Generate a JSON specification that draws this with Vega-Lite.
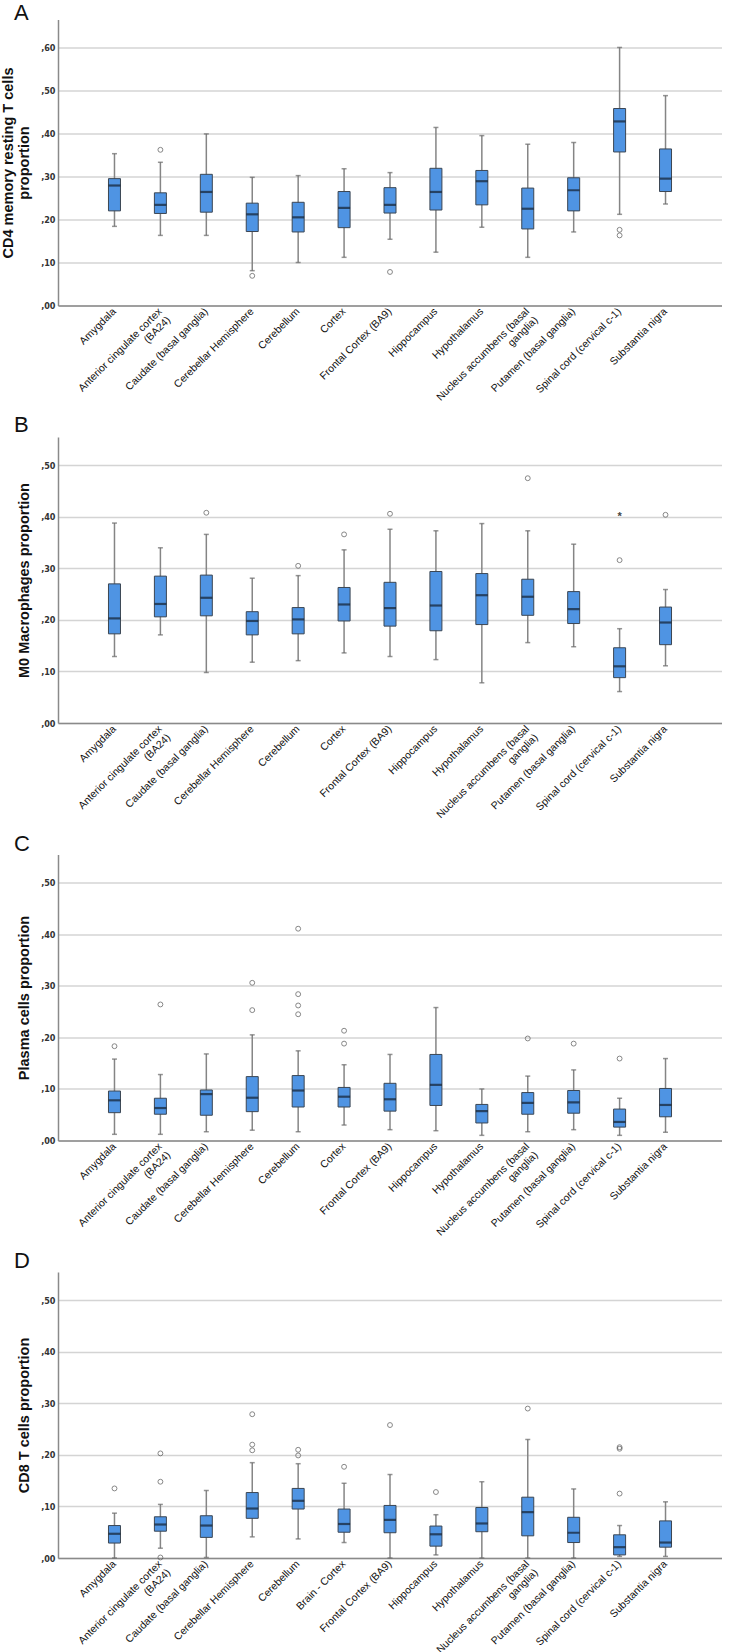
{
  "$schema": "https://vega.github.io/schema/vega-lite/v6.json",
  "background": "white",
  "padding": {"left": 0, "top": 1.5, "right": 0, "bottom": 0},
  "spacing": 131.5,
  "bounds": "flush",
  "config": {
    "view": {"stroke": null},
    "axisX": {"domainColor": "#8a8a8a", "domainWidth": 1.5, "ticks": false, "labelAngle": -45, "labelFontSize": 10.5, "labelLineHeight": 12, "labelFont": "Liberation Sans", "labelColor": "#111", "labelAlign": "right", "labelBaseline": "middle", "labelPadding": 4, "labelLimit": 300, "grid": false, "title": null,
      "labelExpr": "datum.label == 'Anterior cingulate cortex (BA24)' ? ['Anterior cingulate cortex', '(BA24)'] : datum.label == 'Nucleus accumbens (basal ganglia)' ? ['Nucleus accumbens (basal', 'ganglia)'] : datum.label"},
    "axisY": {"domainColor": "#8a8a8a", "domainWidth": 1.5, "ticks": false, "labelFont": "DejaVu Sans Condensed", "labelFontWeight": "bold", "labelFontSize": 9, "labelColor": "#333", "labelPadding": 3, "gridColor": "#d4d4d4", "gridWidth": 1.5, "titleFont": "Liberation Sans", "titleFontSize": 14.5, "titleFontWeight": "bold", "titleColor": "#111", "titlePadding": 9,
      "labelExpr": "replace(format(datum.value, '.2f'), '0.', ',')"},
    "title": {"anchor": "start", "frame": "group", "dx": -44, "fontSize": 22, "fontWeight": "normal", "font": "Liberation Sans", "color": "#111", "baseline": "alphabetic", "offset": 0}
  },
  "datasets": {
    "boxes": [
      {"p": "A", "r": "Amygdala", "lo": 0.184, "q1": 0.220, "md": 0.279, "q3": 0.295, "hi": 0.353},
      {"p": "A", "r": "Anterior cingulate cortex (BA24)", "lo": 0.163, "q1": 0.214, "md": 0.234, "q3": 0.262, "hi": 0.333},
      {"p": "A", "r": "Caudate (basal ganglia)", "lo": 0.163, "q1": 0.217, "md": 0.264, "q3": 0.305, "hi": 0.399},
      {"p": "A", "r": "Cerebellar Hemisphere", "lo": 0.081, "q1": 0.172, "md": 0.212, "q3": 0.238, "hi": 0.298},
      {"p": "A", "r": "Cerebellum", "lo": 0.100, "q1": 0.171, "md": 0.205, "q3": 0.240, "hi": 0.302},
      {"p": "A", "r": "Cortex", "lo": 0.112, "q1": 0.181, "md": 0.227, "q3": 0.265, "hi": 0.318},
      {"p": "A", "r": "Frontal Cortex (BA9)", "lo": 0.154, "q1": 0.215, "md": 0.234, "q3": 0.274, "hi": 0.309},
      {"p": "A", "r": "Hippocampus", "lo": 0.124, "q1": 0.222, "md": 0.264, "q3": 0.319, "hi": 0.414},
      {"p": "A", "r": "Hypothalamus", "lo": 0.182, "q1": 0.234, "md": 0.289, "q3": 0.314, "hi": 0.395},
      {"p": "A", "r": "Nucleus accumbens (basal ganglia)", "lo": 0.112, "q1": 0.178, "md": 0.225, "q3": 0.273, "hi": 0.375},
      {"p": "A", "r": "Putamen (basal ganglia)", "lo": 0.171, "q1": 0.220, "md": 0.268, "q3": 0.297, "hi": 0.379},
      {"p": "A", "r": "Spinal cord (cervical c-1)", "lo": 0.212, "q1": 0.357, "md": 0.428, "q3": 0.458, "hi": 0.600},
      {"p": "A", "r": "Substantia nigra", "lo": 0.236, "q1": 0.265, "md": 0.295, "q3": 0.364, "hi": 0.488},

      {"p": "B", "r": "Amygdala", "lo": 0.129, "q1": 0.173, "md": 0.203, "q3": 0.270, "hi": 0.388},
      {"p": "B", "r": "Anterior cingulate cortex (BA24)", "lo": 0.171, "q1": 0.206, "md": 0.231, "q3": 0.285, "hi": 0.340},
      {"p": "B", "r": "Caudate (basal ganglia)", "lo": 0.098, "q1": 0.208, "md": 0.243, "q3": 0.287, "hi": 0.366},
      {"p": "B", "r": "Cerebellar Hemisphere", "lo": 0.118, "q1": 0.171, "md": 0.198, "q3": 0.216, "hi": 0.281},
      {"p": "B", "r": "Cerebellum", "lo": 0.121, "q1": 0.173, "md": 0.201, "q3": 0.224, "hi": 0.286},
      {"p": "B", "r": "Cortex", "lo": 0.136, "q1": 0.198, "md": 0.230, "q3": 0.263, "hi": 0.336},
      {"p": "B", "r": "Frontal Cortex (BA9)", "lo": 0.129, "q1": 0.188, "md": 0.223, "q3": 0.273, "hi": 0.376},
      {"p": "B", "r": "Hippocampus", "lo": 0.123, "q1": 0.179, "md": 0.228, "q3": 0.294, "hi": 0.373},
      {"p": "B", "r": "Hypothalamus", "lo": 0.078, "q1": 0.191, "md": 0.248, "q3": 0.290, "hi": 0.387},
      {"p": "B", "r": "Nucleus accumbens (basal ganglia)", "lo": 0.156, "q1": 0.209, "md": 0.245, "q3": 0.279, "hi": 0.373},
      {"p": "B", "r": "Putamen (basal ganglia)", "lo": 0.148, "q1": 0.193, "md": 0.221, "q3": 0.255, "hi": 0.347},
      {"p": "B", "r": "Spinal cord (cervical c-1)", "lo": 0.061, "q1": 0.088, "md": 0.110, "q3": 0.146, "hi": 0.183},
      {"p": "B", "r": "Substantia nigra", "lo": 0.111, "q1": 0.152, "md": 0.195, "q3": 0.225, "hi": 0.259},

      {"p": "C", "r": "Amygdala", "lo": 0.012, "q1": 0.054, "md": 0.078, "q3": 0.096, "hi": 0.158},
      {"p": "C", "r": "Anterior cingulate cortex (BA24)", "lo": 0.012, "q1": 0.051, "md": 0.063, "q3": 0.082, "hi": 0.128},
      {"p": "C", "r": "Caudate (basal ganglia)", "lo": 0.017, "q1": 0.049, "md": 0.090, "q3": 0.098, "hi": 0.168},
      {"p": "C", "r": "Cerebellar Hemisphere", "lo": 0.020, "q1": 0.056, "md": 0.083, "q3": 0.124, "hi": 0.205},
      {"p": "C", "r": "Cerebellum", "lo": 0.017, "q1": 0.065, "md": 0.097, "q3": 0.126, "hi": 0.174},
      {"p": "C", "r": "Cortex", "lo": 0.030, "q1": 0.065, "md": 0.085, "q3": 0.103, "hi": 0.147},
      {"p": "C", "r": "Frontal Cortex (BA9)", "lo": 0.021, "q1": 0.057, "md": 0.080, "q3": 0.111, "hi": 0.167},
      {"p": "C", "r": "Hippocampus", "lo": 0.019, "q1": 0.068, "md": 0.108, "q3": 0.167, "hi": 0.258},
      {"p": "C", "r": "Hypothalamus", "lo": 0.010, "q1": 0.034, "md": 0.057, "q3": 0.070, "hi": 0.100},
      {"p": "C", "r": "Nucleus accumbens (basal ganglia)", "lo": 0.017, "q1": 0.051, "md": 0.073, "q3": 0.093, "hi": 0.125},
      {"p": "C", "r": "Putamen (basal ganglia)", "lo": 0.021, "q1": 0.053, "md": 0.074, "q3": 0.097, "hi": 0.137},
      {"p": "C", "r": "Spinal cord (cervical c-1)", "lo": 0.010, "q1": 0.026, "md": 0.036, "q3": 0.061, "hi": 0.082},
      {"p": "C", "r": "Substantia nigra", "lo": 0.016, "q1": 0.046, "md": 0.069, "q3": 0.101, "hi": 0.159},

      {"p": "D", "r": "Amygdala", "lo": 0.000, "q1": 0.029, "md": 0.047, "q3": 0.063, "hi": 0.087},
      {"p": "D", "r": "Anterior cingulate cortex (BA24)", "lo": 0.019, "q1": 0.052, "md": 0.065, "q3": 0.080, "hi": 0.104},
      {"p": "D", "r": "Caudate (basal ganglia)", "lo": 0.001, "q1": 0.040, "md": 0.063, "q3": 0.082, "hi": 0.131},
      {"p": "D", "r": "Cerebellar Hemisphere", "lo": 0.041, "q1": 0.077, "md": 0.096, "q3": 0.127, "hi": 0.185},
      {"p": "D", "r": "Cerebellum", "lo": 0.037, "q1": 0.095, "md": 0.111, "q3": 0.135, "hi": 0.183},
      {"p": "D", "r": "Brain - Cortex", "lo": 0.030, "q1": 0.050, "md": 0.066, "q3": 0.095, "hi": 0.145},
      {"p": "D", "r": "Frontal Cortex (BA9)", "lo": 0.000, "q1": 0.049, "md": 0.074, "q3": 0.102, "hi": 0.162},
      {"p": "D", "r": "Hippocampus", "lo": 0.006, "q1": 0.023, "md": 0.046, "q3": 0.062, "hi": 0.084},
      {"p": "D", "r": "Hypothalamus", "lo": 0.000, "q1": 0.051, "md": 0.067, "q3": 0.098, "hi": 0.148},
      {"p": "D", "r": "Nucleus accumbens (basal ganglia)", "lo": 0.000, "q1": 0.043, "md": 0.089, "q3": 0.118, "hi": 0.230},
      {"p": "D", "r": "Putamen (basal ganglia)", "lo": 0.000, "q1": 0.030, "md": 0.049, "q3": 0.079, "hi": 0.134},
      {"p": "D", "r": "Spinal cord (cervical c-1)", "lo": 0.003, "q1": 0.006, "md": 0.021, "q3": 0.045, "hi": 0.063},
      {"p": "D", "r": "Substantia nigra", "lo": 0.003, "q1": 0.021, "md": 0.030, "q3": 0.072, "hi": 0.109}
    ],
    "outliers": [
      {"p": "A", "r": "Anterior cingulate cortex (BA24)", "v": 0.362, "k": "o"},
      {"p": "A", "r": "Cerebellar Hemisphere", "v": 0.069, "k": "o"},
      {"p": "A", "r": "Frontal Cortex (BA9)", "v": 0.078, "k": "o"},
      {"p": "A", "r": "Spinal cord (cervical c-1)", "v": 0.176, "k": "o"},
      {"p": "A", "r": "Spinal cord (cervical c-1)", "v": 0.163, "k": "o"},
      {"p": "B", "r": "Caudate (basal ganglia)", "v": 0.408, "k": "o"},
      {"p": "B", "r": "Cerebellum", "v": 0.305, "k": "o"},
      {"p": "B", "r": "Cortex", "v": 0.366, "k": "o"},
      {"p": "B", "r": "Frontal Cortex (BA9)", "v": 0.406, "k": "o"},
      {"p": "B", "r": "Nucleus accumbens (basal ganglia)", "v": 0.475, "k": "o"},
      {"p": "B", "r": "Spinal cord (cervical c-1)", "v": 0.316, "k": "o"},
      {"p": "B", "r": "Spinal cord (cervical c-1)", "v": 0.406, "k": "*"},
      {"p": "B", "r": "Substantia nigra", "v": 0.404, "k": "o"},
      {"p": "C", "r": "Amygdala", "v": 0.183, "k": "o"},
      {"p": "C", "r": "Anterior cingulate cortex (BA24)", "v": 0.264, "k": "o"},
      {"p": "C", "r": "Cerebellar Hemisphere", "v": 0.306, "k": "o"},
      {"p": "C", "r": "Cerebellar Hemisphere", "v": 0.253, "k": "o"},
      {"p": "C", "r": "Cerebellum", "v": 0.411, "k": "o"},
      {"p": "C", "r": "Cerebellum", "v": 0.284, "k": "o"},
      {"p": "C", "r": "Cerebellum", "v": 0.262, "k": "o"},
      {"p": "C", "r": "Cerebellum", "v": 0.245, "k": "o"},
      {"p": "C", "r": "Cortex", "v": 0.213, "k": "o"},
      {"p": "C", "r": "Cortex", "v": 0.188, "k": "o"},
      {"p": "C", "r": "Nucleus accumbens (basal ganglia)", "v": 0.198, "k": "o"},
      {"p": "C", "r": "Putamen (basal ganglia)", "v": 0.188, "k": "o"},
      {"p": "C", "r": "Spinal cord (cervical c-1)", "v": 0.159, "k": "o"},
      {"p": "D", "r": "Amygdala", "v": 0.135, "k": "o"},
      {"p": "D", "r": "Anterior cingulate cortex (BA24)", "v": 0.203, "k": "o"},
      {"p": "D", "r": "Anterior cingulate cortex (BA24)", "v": 0.148, "k": "o"},
      {"p": "D", "r": "Anterior cingulate cortex (BA24)", "v": 0.001, "k": "o"},
      {"p": "D", "r": "Cerebellar Hemisphere", "v": 0.279, "k": "o"},
      {"p": "D", "r": "Cerebellar Hemisphere", "v": 0.220, "k": "o"},
      {"p": "D", "r": "Cerebellar Hemisphere", "v": 0.209, "k": "o"},
      {"p": "D", "r": "Cerebellum", "v": 0.210, "k": "o"},
      {"p": "D", "r": "Cerebellum", "v": 0.199, "k": "o"},
      {"p": "D", "r": "Brain - Cortex", "v": 0.177, "k": "o"},
      {"p": "D", "r": "Frontal Cortex (BA9)", "v": 0.258, "k": "o"},
      {"p": "D", "r": "Hippocampus", "v": 0.128, "k": "o"},
      {"p": "D", "r": "Nucleus accumbens (basal ganglia)", "v": 0.290, "k": "o"},
      {"p": "D", "r": "Spinal cord (cervical c-1)", "v": 0.215, "k": "o"},
      {"p": "D", "r": "Spinal cord (cervical c-1)", "v": 0.212, "k": "o"},
      {"p": "D", "r": "Spinal cord (cervical c-1)", "v": 0.125, "k": "o"}
    ]
  },
  "vconcat": [
    {
      "title": {"text": "A", "offset": -5},
      "width": 664, "height": 286,
      "layer": [
        {"data": {"name": "boxes"}, "transform": [{"filter": "datum.p === 'A'"}],
         "mark": {"type": "rule", "color": "#858585", "strokeWidth": 1.5},
         "encoding": {
           "x": {"field": "r", "type": "nominal", "scale": {"domain": ["Amygdala","Anterior cingulate cortex (BA24)","Caudate (basal ganglia)","Cerebellar Hemisphere","Cerebellum","Cortex","Frontal Cortex (BA9)","Hippocampus","Hypothalamus","Nucleus accumbens (basal ganglia)","Putamen (basal ganglia)","Spinal cord (cervical c-1)","Substantia nigra"], "paddingOuter": 0.73, "paddingInner": 0}},
           "y": {"field": "lo", "type": "quantitative", "scale": {"domain": [0, 0.665], "nice": false, "zero": true}, "axis": {"values": [0, 0.1, 0.2, 0.3, 0.4, 0.5, 0.6]}, "title": ["CD4 memory resting T cells", "proportion"]},
           "y2": {"field": "hi"}}},
        {"data": {"name": "boxes"}, "transform": [{"filter": "datum.p === 'A'"}, {"fold": ["lo", "hi"], "as": ["w", "wv"]}],
         "mark": {"type": "tick", "color": "#6a6a6a", "size": 5, "thickness": 1.5},
         "encoding": {"x": {"field": "r", "type": "nominal"}, "y": {"field": "wv", "type": "quantitative"}}},
        {"data": {"name": "boxes"}, "transform": [{"filter": "datum.p === 'A'"}],
         "mark": {"type": "bar", "width": 12, "fill": "#4f94e3", "stroke": "#3b4653", "strokeWidth": 1},
         "encoding": {"x": {"field": "r", "type": "nominal"}, "y": {"field": "q1", "type": "quantitative"}, "y2": {"field": "q3"}}},
        {"data": {"name": "boxes"}, "transform": [{"filter": "datum.p === 'A'"}],
         "mark": {"type": "tick", "color": "#14202e", "size": 12, "thickness": 2.2},
         "encoding": {"x": {"field": "r", "type": "nominal"}, "y": {"field": "md", "type": "quantitative"}}},
        {"data": {"name": "outliers"}, "transform": [{"filter": "datum.p === 'A' && datum.k === 'o'"}],
         "mark": {"type": "point", "shape": "circle", "filled": false, "size": 24, "stroke": "#555", "strokeWidth": 1},
         "encoding": {"x": {"field": "r", "type": "nominal"}, "y": {"field": "v", "type": "quantitative"}}}
      ]
    },
    {
      "title": {"text": "B", "offset": 0},
      "width": 664, "height": 286,
      "layer": [
        {"data": {"name": "boxes"}, "transform": [{"filter": "datum.p === 'B'"}],
         "mark": {"type": "rule", "color": "#858585", "strokeWidth": 1.5},
         "encoding": {
           "x": {"field": "r", "type": "nominal", "scale": {"domain": ["Amygdala","Anterior cingulate cortex (BA24)","Caudate (basal ganglia)","Cerebellar Hemisphere","Cerebellum","Cortex","Frontal Cortex (BA9)","Hippocampus","Hypothalamus","Nucleus accumbens (basal ganglia)","Putamen (basal ganglia)","Spinal cord (cervical c-1)","Substantia nigra"], "paddingOuter": 0.73, "paddingInner": 0}},
           "y": {"field": "lo", "type": "quantitative", "scale": {"domain": [0, 0.555], "nice": false, "zero": true}, "axis": {"values": [0, 0.1, 0.2, 0.3, 0.4, 0.5]}, "title": "M0 Macrophages proportion"},
           "y2": {"field": "hi"}}},
        {"data": {"name": "boxes"}, "transform": [{"filter": "datum.p === 'B'"}, {"fold": ["lo", "hi"], "as": ["w", "wv"]}],
         "mark": {"type": "tick", "color": "#6a6a6a", "size": 5, "thickness": 1.5},
         "encoding": {"x": {"field": "r", "type": "nominal"}, "y": {"field": "wv", "type": "quantitative"}}},
        {"data": {"name": "boxes"}, "transform": [{"filter": "datum.p === 'B'"}],
         "mark": {"type": "bar", "width": 12, "fill": "#4f94e3", "stroke": "#3b4653", "strokeWidth": 1},
         "encoding": {"x": {"field": "r", "type": "nominal"}, "y": {"field": "q1", "type": "quantitative"}, "y2": {"field": "q3"}}},
        {"data": {"name": "boxes"}, "transform": [{"filter": "datum.p === 'B'"}],
         "mark": {"type": "tick", "color": "#14202e", "size": 12, "thickness": 2.2},
         "encoding": {"x": {"field": "r", "type": "nominal"}, "y": {"field": "md", "type": "quantitative"}}},
        {"data": {"name": "outliers"}, "transform": [{"filter": "datum.p === 'B' && datum.k === 'o'"}],
         "mark": {"type": "point", "shape": "circle", "filled": false, "size": 24, "stroke": "#555", "strokeWidth": 1},
         "encoding": {"x": {"field": "r", "type": "nominal"}, "y": {"field": "v", "type": "quantitative"}}},
        {"data": {"name": "outliers"}, "transform": [{"filter": "datum.p === 'B' && datum.k === '*'"}],
         "mark": {"type": "text", "text": "*", "fontSize": 11, "font": "Liberation Sans", "fontWeight": "bold", "color": "#444", "baseline": "middle", "dy": 3},
         "encoding": {"x": {"field": "r", "type": "nominal"}, "y": {"field": "v", "type": "quantitative"}}}
      ]
    },
    {
      "title": {"text": "C", "offset": -1},
      "width": 664, "height": 286,
      "layer": [
        {"data": {"name": "boxes"}, "transform": [{"filter": "datum.p === 'C'"}],
         "mark": {"type": "rule", "color": "#858585", "strokeWidth": 1.5},
         "encoding": {
           "x": {"field": "r", "type": "nominal", "scale": {"domain": ["Amygdala","Anterior cingulate cortex (BA24)","Caudate (basal ganglia)","Cerebellar Hemisphere","Cerebellum","Cortex","Frontal Cortex (BA9)","Hippocampus","Hypothalamus","Nucleus accumbens (basal ganglia)","Putamen (basal ganglia)","Spinal cord (cervical c-1)","Substantia nigra"], "paddingOuter": 0.73, "paddingInner": 0}},
           "y": {"field": "lo", "type": "quantitative", "scale": {"domain": [0, 0.555], "nice": false, "zero": true}, "axis": {"values": [0, 0.1, 0.2, 0.3, 0.4, 0.5]}, "title": "Plasma cells proportion"},
           "y2": {"field": "hi"}}},
        {"data": {"name": "boxes"}, "transform": [{"filter": "datum.p === 'C'"}, {"fold": ["lo", "hi"], "as": ["w", "wv"]}],
         "mark": {"type": "tick", "color": "#6a6a6a", "size": 5, "thickness": 1.5},
         "encoding": {"x": {"field": "r", "type": "nominal"}, "y": {"field": "wv", "type": "quantitative"}}},
        {"data": {"name": "boxes"}, "transform": [{"filter": "datum.p === 'C'"}],
         "mark": {"type": "bar", "width": 12, "fill": "#4f94e3", "stroke": "#3b4653", "strokeWidth": 1},
         "encoding": {"x": {"field": "r", "type": "nominal"}, "y": {"field": "q1", "type": "quantitative"}, "y2": {"field": "q3"}}},
        {"data": {"name": "boxes"}, "transform": [{"filter": "datum.p === 'C'"}],
         "mark": {"type": "tick", "color": "#14202e", "size": 12, "thickness": 2.2},
         "encoding": {"x": {"field": "r", "type": "nominal"}, "y": {"field": "md", "type": "quantitative"}}},
        {"data": {"name": "outliers"}, "transform": [{"filter": "datum.p === 'C' && datum.k === 'o'"}],
         "mark": {"type": "point", "shape": "circle", "filled": false, "size": 24, "stroke": "#555", "strokeWidth": 1},
         "encoding": {"x": {"field": "r", "type": "nominal"}, "y": {"field": "v", "type": "quantitative"}}}
      ]
    },
    {
      "title": {"text": "D", "offset": -1},
      "width": 664, "height": 286,
      "layer": [
        {"data": {"name": "boxes"}, "transform": [{"filter": "datum.p === 'D'"}],
         "mark": {"type": "rule", "color": "#858585", "strokeWidth": 1.5},
         "encoding": {
           "x": {"field": "r", "type": "nominal", "scale": {"domain": ["Amygdala","Anterior cingulate cortex (BA24)","Caudate (basal ganglia)","Cerebellar Hemisphere","Cerebellum","Brain - Cortex","Frontal Cortex (BA9)","Hippocampus","Hypothalamus","Nucleus accumbens (basal ganglia)","Putamen (basal ganglia)","Spinal cord (cervical c-1)","Substantia nigra"], "paddingOuter": 0.73, "paddingInner": 0}},
           "y": {"field": "lo", "type": "quantitative", "scale": {"domain": [0, 0.555], "nice": false, "zero": true}, "axis": {"values": [0, 0.1, 0.2, 0.3, 0.4, 0.5]}, "title": "CD8 T cells proportion"},
           "y2": {"field": "hi"}}},
        {"data": {"name": "boxes"}, "transform": [{"filter": "datum.p === 'D'"}, {"fold": ["lo", "hi"], "as": ["w", "wv"]}],
         "mark": {"type": "tick", "color": "#6a6a6a", "size": 5, "thickness": 1.5},
         "encoding": {"x": {"field": "r", "type": "nominal"}, "y": {"field": "wv", "type": "quantitative"}}},
        {"data": {"name": "boxes"}, "transform": [{"filter": "datum.p === 'D'"}],
         "mark": {"type": "bar", "width": 12, "fill": "#4f94e3", "stroke": "#3b4653", "strokeWidth": 1},
         "encoding": {"x": {"field": "r", "type": "nominal"}, "y": {"field": "q1", "type": "quantitative"}, "y2": {"field": "q3"}}},
        {"data": {"name": "boxes"}, "transform": [{"filter": "datum.p === 'D'"}],
         "mark": {"type": "tick", "color": "#14202e", "size": 12, "thickness": 2.2},
         "encoding": {"x": {"field": "r", "type": "nominal"}, "y": {"field": "md", "type": "quantitative"}}},
        {"data": {"name": "outliers"}, "transform": [{"filter": "datum.p === 'D' && datum.k === 'o'"}],
         "mark": {"type": "point", "shape": "circle", "filled": false, "size": 24, "stroke": "#555", "strokeWidth": 1},
         "encoding": {"x": {"field": "r", "type": "nominal"}, "y": {"field": "v", "type": "quantitative"}}}
      ]
    }
  ]
}
